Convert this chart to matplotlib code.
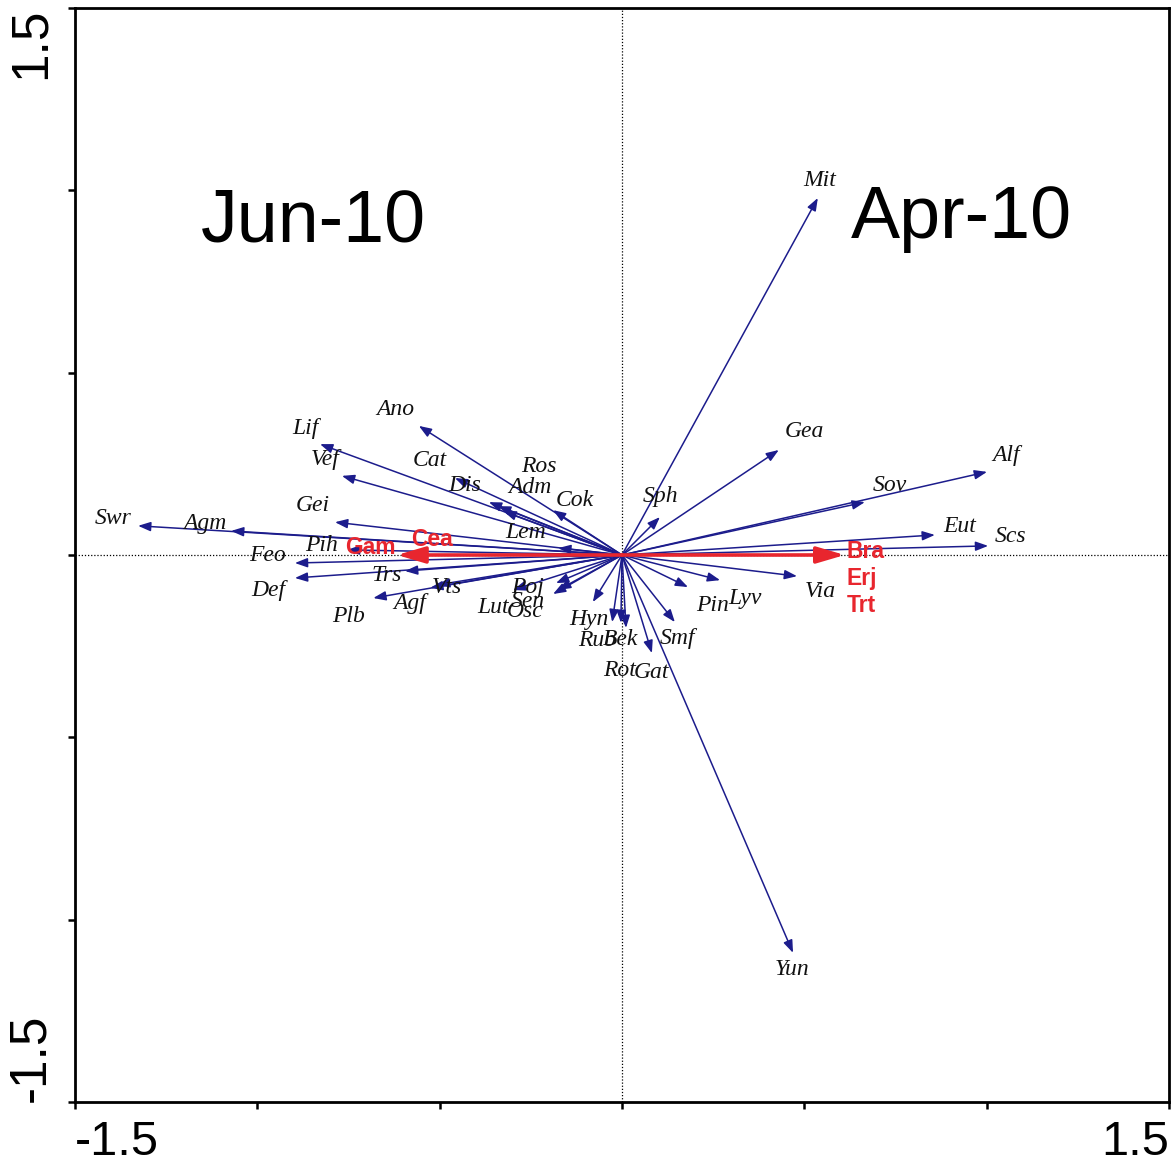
import matplotlib
matplotlib.use("Agg")
import matplotlib.pyplot as plt

# Species scores (biplot arrows)
species = ["Mit", "Yun", "Gea", "Alf", "Sov", "Eut", "Scs", "Via", "Lyv", "Pin",
           "Smf", "Sph", "Gat", "Bek", "Rot", "Rub", "Hyn",
           "Swr", "Agm", "Gei", "Lif", "Vef", "Ano", "Cat", "Dis", "Adm", "Ros",
           "Cok", "Lem", "Pih", "Feo", "Def", "Trs", "Plb", "Agf", "Vts", "Lut",
           "Poj", "Sen", "Osc"]
sp_x = [0.537, 0.469, 0.430, 1.001, 0.666, 0.858, 1.004, 0.480, 0.269, 0.181,
        0.145, 0.104, 0.082, 0.011, -0.003, -0.027, -0.080,
        -1.327, -1.072, -0.787, -0.828, -0.768, -0.557, -0.458, -0.365, -0.340, -0.325,
        -0.189, -0.175, -0.754, -0.897, -0.897, -0.595, -0.682, -0.526, -0.507, -0.299,
        -0.181, -0.175, -0.189]
sp_y = [0.979, -1.091, 0.288, 0.228, 0.145, 0.055, 0.025, -0.058, -0.069, -0.088,
        -0.184, 0.104, -0.269, -0.200, -0.186, -0.184, -0.129,
        0.080, 0.066, 0.090, 0.304, 0.217, 0.354, 0.211, 0.145, 0.134, 0.120,
        0.123, 0.019, 0.014, -0.022, -0.063, -0.044, -0.118, -0.090, -0.082, -0.096,
        -0.077, -0.096, -0.107]

# Environmental (sampling date) scores
env_x = [0.611, -0.617]
env_y = [0.0, 0.0]
env_names = [["Bra", "Erj", "Trt"], ["Gam", "Cea"]]

x_ticks = [-1.5, -1.0, -0.5, 0.0, 0.5, 1.0, 1.5]
x_ticklabels = ["-1.5", "", "", "", "", "", "1.5"]
y_ticks = [-1.5, -1.0, -0.5, 0.0, 0.5, 1.0, 1.5]
y_ticklabels = ["-1.5", "", "", "", "", "", "1.5"]

# Label offsets (pixels) from each arrow tip
label_offsets = {
    "Mit": (2, 17), "Yun": (-1, -17), "Gea": (26, 18), "Alf": (19, 16),
    "Sov": (25, 17), "Eut": (25, 8), "Scs": (22, 9), "Via": (23, -15),
    "Lyv": (25, -18), "Pin": (25, -18), "Smf": (3, -16), "Sph": (1, 21),
    "Gat": (0, -19), "Bek": (-6, -12), "Rot": (-1, -48), "Rub": (-15, -18),
    "Hyn": (-4, -17), "Swr": (-25, 7), "Agm": (-26, 7), "Gei": (-22, 17),
    "Lif": (-15, 16), "Vef": (-17, 16), "Ano": (-24, 16), "Cat": (-25, 18),
    "Dis": (-24, 17), "Adm": (32, 19), "Ros": (35, 45), "Cok": (22, 10),
    "Lem": (-33, 16), "Pih": (-25, 4), "Feo": (-27, 8), "Def": (-27, -13),
    "Trs": (-18, -4), "Plb": (-25, -18), "Agf": (-20, -16), "Vts": (10, -3),
    "Lut": (-20, -17), "Poj": (-28, -4), "Sen": (-30, -11), "Osc": (-28, -17),
}

NAVY = "#1c1c8c"
RED = "#e8262e"

fig = plt.figure(figsize=(11.73, 11.67), dpi=100)
ax = fig.add_axes([75 / 1173, 65 / 1167, 1094 / 1173, 1094 / 1167])
ax.set_xlim(-1.5, 1.5)
ax.set_ylim(-1.5, 1.5)

ax.axhline(0, color="black", lw=0.9, ls=(0, (1, 1.5)), zorder=1)
ax.axvline(0, color="black", lw=0.9, ls=(0, (1, 1.5)), zorder=1)

for name, x, y in zip(species, sp_x, sp_y):
    ax.annotate("", xy=(x, y), xytext=(0, 0),
                arrowprops=dict(arrowstyle="-|>,head_length=0.75,head_width=0.28",
                                color=NAVY, lw=1.1, shrinkA=0, shrinkB=0,
                                mutation_scale=10), zorder=3)
    dx, dy = label_offsets[name]
    ax.annotate(name, xy=(x, y), xytext=(dx, dy), textcoords="offset pixels",
                ha="center", va="center", fontsize=17, style="italic",
                family="Liberation Serif", color="#111111", zorder=4)

for (x, y), names in zip(zip(env_x, env_y), env_names):
    ax.annotate("", xy=(x, y), xytext=(0, 0),
                arrowprops=dict(arrowstyle="-|>,head_length=1.7,head_width=0.5",
                                color=RED, lw=2.6, shrinkA=0, shrinkB=0,
                                mutation_scale=10), zorder=5)

# Date labels for the two groups of environmental arrows
for i, name in enumerate(env_names[0]):
    ax.annotate(name, xy=(env_x[0], env_y[0]), xytext=(2, 4 - 27 * i),
                textcoords="offset pixels", ha="left", va="center",
                fontsize=16.5, fontweight="bold", family="Liberation Sans",
                color=RED, zorder=6)
ax.annotate(env_names[1][0], xy=(env_x[1], env_y[1]), xytext=(-27, 7),
            textcoords="offset pixels", ha="center", va="center",
            fontsize=16.5, fontweight="bold", family="Liberation Sans",
            color=RED, zorder=6)
ax.annotate(env_names[1][1], xy=(env_x[1], env_y[1]), xytext=(35, 15),
            textcoords="offset pixels", ha="center", va="center",
            fontsize=16.5, fontweight="bold", family="Liberation Sans",
            color=RED, zorder=6)

ax.text(-0.845, 0.913, "Jun-10", fontsize=53, family="Liberation Sans",
        ha="center", va="center")
ax.text(0.93, 0.922, "Apr-10", fontsize=53, family="Liberation Sans",
        ha="center", va="center")

ax.set_xticks(x_ticks)
ax.set_xticklabels(x_ticklabels, fontsize=35, family="Liberation Sans")
ax.set_yticks(y_ticks)
ax.set_yticklabels(y_ticklabels, fontsize=37, family="Liberation Sans",
                   rotation=90)
xl = ax.get_xticklabels()
xl[0].set_ha("left")
xl[-1].set_ha("right")
yl = ax.get_yticklabels()
for t in yl:
    t.set_va("center")
yl[0].set_va("bottom")
yl[-1].set_va("top")
ax.tick_params(axis="both", direction="out", length=5, width=1.8,
               top=False, right=False)
ax.tick_params(axis="x", pad=8)
ax.tick_params(axis="y", pad=9)
for side in ["left", "bottom", "top", "right"]:
    ax.spines[side].set_linewidth(2.0)

fig.savefig("out.png", dpi=100)
